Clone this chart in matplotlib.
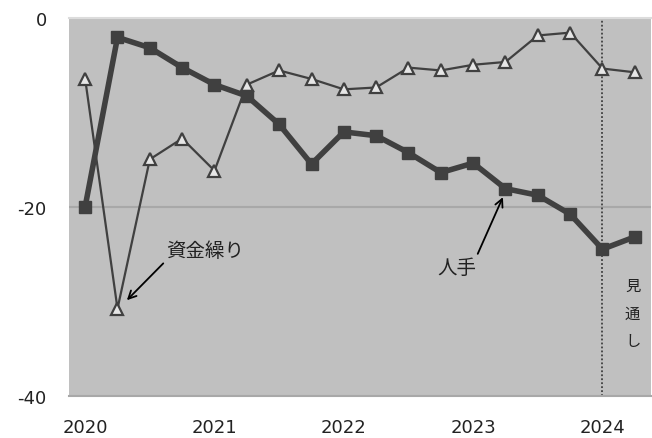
import matplotlib
matplotlib.use("Agg")
import matplotlib.pyplot as plt

plt.rcParams['font.family'] = ['Noto Sans CJK JP', 'DejaVu Sans']

quarters = list(range(18))  # 2020Q1 .. 2024Q2
tick_pos = [0, 4, 8, 12, 16]
tick_labels = ["2020", "2021", "2022", "2023", "2024"]

hitode = [-20, -2.1, -3.2, -5.3, -7.1, -8.3, -11.3, -15.5, -12.1, -12.5,
          -14.3, -16.4, -15.4, -18.1, -18.8, -20.8, -24.5, -23.2]
shikin = [-6.5, -30.8, -15.0, -12.8, -16.2, -7.1, -5.6, -6.5, -7.6, -7.4,
          -5.3, -5.6, -5.0, -4.7, -1.9, -1.6, -5.4, -5.8]

fig = plt.figure(figsize=(6.52, 4.39), dpi=100)
ax = fig.add_axes([69/652, 1-396.7/439, 582/652, (396.7-18.5)/439])
ax.set_facecolor('#c0c0c0')

ax.axhline(-20, color='#a8a8a8', lw=1.5, zorder=1)
ax.axvline(16, color='#404040', lw=1.3, ls=(0, (1, 1.2)), zorder=2)

ax.plot(quarters, shikin, color='#404040', lw=1.6, marker='^', ms=8,
        mfc='#e6e6e6', mec='#404040', mew=1.6, zorder=3)
ax.plot(quarters, hitode, color='#404040', lw=4, marker='s', ms=8.5,
        mfc='#404040', mec='#404040', zorder=4)

ax.set_xlim(-0.5, 17.5)
ax.set_ylim(-40, 0)
ax.set_yticks([0, -20, -40])
ax.set_yticklabels(["0", "-20", "-40"])
ax.set_xticks(tick_pos)
ax.set_xticklabels(tick_labels)
for lab in ax.get_xticklabels() + ax.get_yticklabels():
    lab.set_fontfamily(['DejaVu Sans'])
ax.tick_params(axis='y', length=0, pad=16, labelsize=13, colors='#222222')
ax.tick_params(axis='x', length=0, pad=16, labelsize=13, colors='#222222')
for s in ['left', 'right']:
    ax.spines[s].set_visible(False)
ax.spines['top'].set_color('#dcdcdc')
ax.spines['top'].set_linewidth(1.5)
ax.spines['bottom'].set_color('#a8a8a8')
ax.spines['bottom'].set_linewidth(1.5)

ax.annotate("資金繰り", xy=(1.29, -29.9), xytext=(2.5, -24.6),
            fontsize=14, color='#222222', va='center', ha='left',
            arrowprops=dict(arrowstyle='->', color='black', lw=1.3,
                            shrinkA=0, shrinkB=0, relpos=(0.0, 0.0)))
ax.annotate("人手", xy=(12.92, -19.0), xytext=(11.5, -26.4),
            fontsize=14, color='#222222', va='center', ha='center',
            arrowprops=dict(arrowstyle='->', color='black', lw=1.3,
                            shrinkA=0, shrinkB=0, relpos=(1.0, 1.0)))
for i, ch in enumerate("見通し"):
    ax.text(16.93, -28.3 - i * 2.95, ch, fontsize=11, color='#222222',
            ha='center', va='center')

fig.savefig("out.png", dpi=100)
